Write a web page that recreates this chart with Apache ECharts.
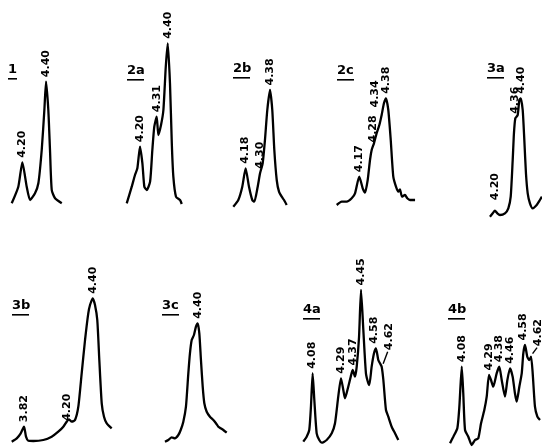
<!DOCTYPE html>
<html><head><meta charset="utf-8">
<script src="https://cdn.jsdelivr.net/npm/echarts@6/dist/echarts.min.js"></script>
<style>html,body{margin:0;padding:0;background:#fff}#c{width:542px;height:447px}</style>
</head><body><div id="c"></div>
<script>
// ---- DATA: traces as [chemical shift (ppm), intensity] ----
const panelNames = ['1','2a','2b','2c','3a','3b','3c','4a','4b'];

const trace1 = [[4.114,16.7],[4.169,33.3],[4.2025,57.7],[4.239,33.3],[4.267,20],[4.308,26.7],[4.336,36.7],[4.364,70],[4.386,110],[4.40,138.3],[4.419,110],[4.433,70],[4.4475,30],[4.475,21.7],[4.531,16.7]];
const trace2a = [[4.107,16.7],[4.143,33.3],[4.166,45],[4.183,51.7],[4.202,73.3],[4.219,56.7],[4.233,33.3],[4.25,30],[4.274,38.3],[4.29,70],[4.304,93.3],[4.321,103.3],[4.333,85],[4.352,95],[4.369,110],[4.386,153.3],[4.40,176.7],[4.416,136.7],[4.429,76.7],[4.44,43.3],[4.459,23.3],[4.488,20],[4.50,16]];
const trace2b = [[4.074,13.3],[4.116,20],[4.149,33.3],[4.177,51.7],[4.205,33.3],[4.2325,20],[4.249,18.3],[4.2775,33.3],[4.297,46.7],[4.319,56.7],[4.338,80],[4.3575,110],[4.38,130],[4.399,110],[4.416,70],[4.436,40],[4.455,28.3],[4.4775,23.3],[4.497,20],[4.519,15]];
const trace2c = [[3.995,15],[4.034,18.3],[4.073,18.3],[4.112,21.7],[4.138,26.7],[4.171,43.3],[4.198,31.7],[4.216,27.3],[4.237,40],[4.255,60],[4.268,70],[4.286,76.7],[4.307,86.7],[4.328,95],[4.346,105],[4.364,116.7],[4.38,121.7],[4.398,110],[4.417,80],[4.437,43.3],[4.458,33.3],[4.476,28.3],[4.489,30.7],[4.505,23.3],[4.528,25],[4.546,21.7],[4.5675,20],[4.607,20]];
const trace3a = [[4.154,3.3],[4.176,6.7],[4.194,9.3],[4.213,6.7],[4.234,5],[4.274,6.7],[4.301,11.7],[4.32,23.3],[4.336,60],[4.346,86.7],[4.357,101.7],[4.376,105],[4.389,120],[4.40,121.7],[4.416,110],[4.429,80],[4.442,46.7],[4.456,26.7],[4.474,16.7],[4.496,11.7],[4.528,15],[4.554,20],[4.57,23.3]];
const trace3b = [[3.725,3.3],[3.767,6.7],[3.80,11.7],[3.8275,18.3],[3.844,8.3],[3.863,4.3],[3.905,4],[3.988,5],[4.058,8.3],[4.113,13.3],[4.155,18.3],[4.183,23.3],[4.2025,25.7],[4.225,23.3],[4.2525,25],[4.28,38.3],[4.308,71.7],[4.336,105],[4.363,131.7],[4.3775,140],[4.40,146.7],[4.419,140],[4.438,125],[4.455,85],[4.475,41.7],[4.494,28.3],[4.5167,21.7],[4.558,16.7]];
const trace3c = [[4.138,3.3],[4.165,5],[4.192,7.7],[4.218,6.7],[4.245,10],[4.264,15],[4.285,23.3],[4.306,38.3],[4.325,71.7],[4.338,91.7],[4.352,105],[4.37,110],[4.386,118.3],[4.40,121.7],[4.413,111.7],[4.426,85],[4.44,58.3],[4.453,41.7],[4.472,33.3],[4.498,28.3],[4.525,25],[4.546,21.7],[4.565,18.3],[4.584,16.7],[4.605,15],[4.632,12.3]];
const trace4a = [[4.006,3.3],[4.032,8.3],[4.052,15],[4.065,38.3],[4.078,71.7],[4.091,45],[4.109,11.7],[4.129,5],[4.148,2.3],[4.186,5],[4.225,11.7],[4.25,21.7],[4.275,48.3],[4.296,66.7],[4.314,55],[4.327,46.7],[4.352,58.3],[4.371,68.3],[4.386,75],[4.404,68.3],[4.417,78.3],[4.435,108.3],[4.45,155],[4.468,115],[4.488,71.7],[4.506,61.7],[4.514,60],[4.532,78.3],[4.55,91.7],[4.565,96.7],[4.583,85],[4.596,81.7],[4.609,78.3],[4.622,65],[4.642,35],[4.66,28.3],[4.686,18.3],[4.7115,11.7],[4.737,5]];
const trace4b = [[3.985,1.7],[4.011,8.3],[4.043,16.7],[4.059,38.3],[4.078,78.3],[4.09,51.7],[4.104,15],[4.13,8.3],[4.157,0],[4.183,5],[4.209,6.7],[4.231,21.7],[4.257,35],[4.276,48.3],[4.294,70],[4.31,65],[4.328,58.3],[4.355,71.7],[4.376,78.3],[4.395,65],[4.421,48.3],[4.44,65],[4.461,76.7],[4.482,68.3],[4.5,51.7],[4.514,43.3],[4.535,58.3],[4.554,71.7],[4.5665,91.7],[4.58,100],[4.598,88.3],[4.614,85],[4.628,88.3],[4.641,71.7],[4.659,38.3],[4.678,28.3],[4.699,25]];

// peak labels (tick labels) as [text, ppm of the marked peak]
const peaks1  = [['4.20',4.20],['4.40',4.40]];
const peaks2a = [['4.20',4.20],['4.31',4.321],['4.40',4.40]];
const peaks2b = [['4.18',4.18],['4.30',4.297],['4.38',4.38]];
const peaks2c = [['4.17',4.17],['4.28',4.268],['4.34',4.346],['4.38',4.38]];
const peaks3a = [['4.20',4.20],['4.36',4.357],['4.40',4.40]];
const peaks3b = [['3.82',3.82],['4.20',4.20],['4.40',4.40]];
const peaks3c = [['4.40',4.40]];
const peaks4a = [['4.08',4.08],['4.29',4.29],['4.37',4.386],['4.45',4.45],['4.58',4.565],['4.62',4.609]];
const peaks4b = [['4.08',4.08],['4.29',4.29],['4.38',4.376],['4.46',4.46],['4.58',4.58],['4.62',4.628]];

const traces = [trace1,trace2a,trace2b,trace2c,trace3a,trace3b,trace3c,trace4a,trace4b];
const peaks  = [peaks1,peaks2a,peaks2b,peaks2c,peaks3a,peaks3b,peaks3c,peaks4a,peaks4b];

// ---- LAYOUT (positions / styles only) ----
const layout = [
  {left:5,   top:40,  width:65,  x0:4.058,  scale:120, title:[8,63]},
  {left:120, top:40,  width:70,  x0:4.059,  scale:140, title:[127,64]},
  {left:225, top:40,  width:70,  x0:4.005,  scale:120, title:[233,62]},
  {left:330, top:40,  width:95,  x0:3.9425, scale:128, title:[337,64]},
  {left:485, top:40,  width:57,  x0:4.1144, scale:125, title:[487,62]},
  {left:5,   top:265, width:115, x0:3.669,  scale:120, title:[12,299]},
  {left:160, top:265, width:75,  x0:4.0984, scale:125, title:[162,299]},
  {left:298, top:265, width:105, x0:3.9654, scale:130, title:[303,303]},
  {left:445, top:265, width:97,  x0:3.945,  scale:126, title:[448,303]}
];
// screen shifts [dx, dy] of some peak labels; those with a leader line get one drawn to the peak
const labelShift = {
  '3-1':[1,-3], '3-2':[-7,-3], '4-0':[0,-6], '5-1':[-2,6],
  '7-4':[-2,0], '7-5':[7,-12], '8-4':[-2,0], '8-5':[7,-6]
};
const leader = {'7-5':true, '8-5':true};
const PH = 180, YMAX = 180, LDIST = 4;

const grids=[], xAxes=[], yAxes=[], series=[], graphics=[];
traces.forEach((tr,i)=>{
  const L = layout[i];
  grids.push({left:L.left, top:L.top, width:L.width, height:PH});
  xAxes.push({type:'value', gridIndex:i, min:L.x0, max:L.x0 + L.width/L.scale, show:false});
  yAxes.push({type:'value', gridIndex:i, min:0, max:YMAX, show:false});
  const data = tr.map(p=>({value:p, symbolSize:0}));
  const leaders = [];
  const pxY = YMAX/PH; // intensity units per pixel
  peaks[i].forEach(([txt,ppm],k)=>{
    let best=0, bd=1e9;
    tr.forEach((p,j)=>{const d=Math.abs(p[0]-ppm); if(d<bd){bd=d;best=j;}});
    const key = i+'-'+k;
    const s = labelShift[key] || [0,0];
    // label is rotated 90deg, so its offset lives in the rotated frame
    data[best] = {value:tr[best], symbolSize:1,
      label:{show:true, formatter:txt, position:'top', distance:LDIST,
        rotate:90, align:'left', verticalAlign:'middle', offset:[-s[1], s[0]],
        fontSize:11, fontWeight:'bold', color:'#000', fontFamily:'DejaVu Sans'}};
    if (leader[key]) {
      const [x,y] = tr[best];
      leaders.push([{coord:[x + 1.5/L.scale, y + 3*pxY]},
                    {coord:[x + (s[0]-1)/L.scale, y + (LDIST - s[1] - 1)*pxY]}]);
    }
  });
  series.push({type:'line', xAxisIndex:i, yAxisIndex:i, data:data, smooth:0.2,
    showSymbol:true, symbol:'circle', clip:false, itemStyle:{color:'#000'},
    lineStyle:{color:'#000', width:2.3}, label:{show:false},
    markLine: leaders.length ? {silent:true, symbol:['none','none'], label:{show:false},
      lineStyle:{color:'#000', width:1.4, type:'solid'}, data:leaders} : undefined});
  const [tx,ty] = L.title;
  graphics.push({type:'text', x:tx, y:ty, style:{text:panelNames[i], font:'bold 13px DejaVu Sans', fill:'#000'}});
  const w = panelNames[i].length===1 ? 9 : 17;
  graphics.push({type:'rect', x:tx, y:ty+15, shape:{width:w, height:1.6}, style:{fill:'#000'}});
});

const chart = echarts.init(document.getElementById('c'), null, {renderer:'canvas'});
chart.setOption({animation:false, backgroundColor:'#fff', grid:grids, xAxis:xAxes, yAxis:yAxes, series:series, graphic:graphics});
</script></body></html>
